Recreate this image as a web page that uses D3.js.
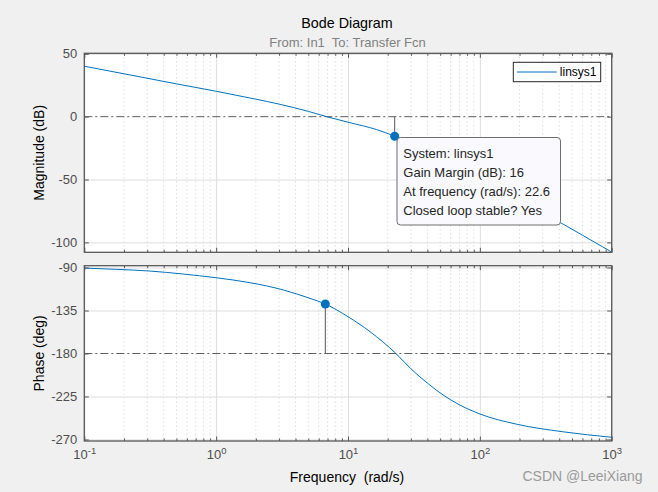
<!DOCTYPE html>
<html><head><meta charset="utf-8">
<script src="https://cdn.jsdelivr.net/npm/d3@7"></script>
<style>
body{margin:0;background:#f0f0f0;}
svg{display:block;font-family:"Liberation Sans",Arial,Helvetica,sans-serif;}
</style>
</head><body>
<svg id="c" width="658" height="492"></svg>
<script>
// ---- data ----
const magFreq = [0.1, 0.2, 0.5, 1, 2, 3, 5, 6.89, 10, 16.5, 22.7, 30, 50, 100, 200, 410, 600, 1000];
const magDb   = [40.1, 34.1, 26.1, 20.2, 13.9, 10.0, 4.2, 0, -4.4, -10.3, -15.6, -21, -32, -50, -67, -84.4, -94.3, -107.7];
const phaseFreq = [0.1, 0.176, 0.315, 0.56, 1, 1.81, 3.23, 5.15, 6.73, 10, 14.7, 23, 30, 40, 60, 100, 190, 430, 1000];
const phaseDeg  = [-90.6, -91.9, -93.7, -96.8, -100.7, -105.9, -113.5, -122.3, -128.2, -141.5, -157.2, -179.8, -196, -211, -228.5, -243.3, -254, -262, -267.7];
const xTickExps = [-1, 0, 1, 2, 3];
const magTicks = [-100, -50, 0, 50];
const phaseTicks = [-270, -225, -180, -135, -90];
const gmPoint = [22.6, -15.6];   // gain margin marker (freq, dB)
const pmPoint = [6.73, -128.2];  // phase margin marker (freq, deg)
const legendLabel = "linsys1";
const tipLines = ["System: linsys1", "Gain Margin (dB): 16", "At frequency (rad/s): 22.6", "Closed loop stable? Yes"];

// ---- layout ----
const svg = d3.select("#c");
const X0 = 84.3, X1 = 611.7;
const magTop = 53.3, magBot = 252.3, phTop = 265.7, phBot = 441;
const blue = "#0072BD", axCol = "#585858", lblCol = "#4d4d4d";

const x = d3.scaleLog().domain([0.1, 1000]).range([X0, X1]);
const yMag = d3.scaleLinear().domain([-107.9, 50.4]).range([magBot, magTop]);
const yPh = d3.scaleLinear().domain([-271.6, -88.1]).range([phBot, phTop]);

const minorFreqs = [];
for (let e = -1; e < 3; e++) for (let m = 2; m <= 9; m++) minorFreqs.push(m * Math.pow(10, e));
const majorFreqs = xTickExps.map(e => Math.pow(10, e));

function panel(y, top, bot, yTicks, refVal, id) {
  const g = svg.append("g");
  g.append("rect").attr("x", X0).attr("y", top).attr("width", X1 - X0).attr("height", bot - top).attr("fill", "#fff");
  g.append("g").selectAll("line").data(minorFreqs).join("line")
    .attr("x1", d => x(d)).attr("x2", d => x(d)).attr("y1", top).attr("y2", bot)
    .attr("stroke", "#cfcfcf").attr("stroke-width", 1).attr("stroke-dasharray", "1,3");
  g.append("g").attr("transform", `translate(0,${bot})`)
    .call(d3.axisBottom(x).tickValues(majorFreqs).tickSize(-(bot - top)).tickFormat(""))
    .call(s => s.select(".domain").remove())
    .call(s => s.selectAll("line").attr("stroke", "#dedede"));
  g.append("g").attr("transform", `translate(${X0},0)`)
    .call(d3.axisLeft(y).tickValues(yTicks.filter(v => v !== refVal)).tickSize(-(X1 - X0)).tickFormat(""))
    .call(s => s.select(".domain").remove())
    .call(s => s.selectAll("line").attr("stroke", "#dedede"));
  g.append("line").attr("x1", X0).attr("x2", X1).attr("y1", y(refVal)).attr("y2", y(refVal))
    .attr("stroke", "#606060").attr("stroke-width", 1).attr("stroke-dasharray", "8,3,2,3");
  svg.append("clipPath").attr("id", id).append("rect")
    .attr("x", X0).attr("y", top).attr("width", X1 - X0).attr("height", bot - top);
  return g;
}

const gM = panel(yMag, magTop, magBot, magTicks, 0, "clipM");
const gP = panel(yPh, phTop, phBot, phaseTicks, -180, "clipP");

const magLine = d3.line().x((d, i) => x(magFreq[i])).y(d => yMag(d)).curve(d3.curveMonotoneX);
gM.append("path").datum(magDb).attr("d", magLine).attr("fill", "none").attr("stroke", blue)
  .attr("stroke-width", 1).attr("clip-path", "url(#clipM)");
const phLine = d3.line().x((d, i) => x(phaseFreq[i])).y(d => yPh(d)).curve(d3.curveMonotoneX);
gP.append("path").datum(phaseDeg).attr("d", phLine).attr("fill", "none").attr("stroke", blue)
  .attr("stroke-width", 1).attr("clip-path", "url(#clipP)");

gM.append("line").attr("x1", x(gmPoint[0])).attr("x2", x(gmPoint[0])).attr("y1", yMag(0)).attr("y2", yMag(gmPoint[1]))
  .attr("stroke", "#555").attr("stroke-width", 1);
gP.append("line").attr("x1", x(pmPoint[0])).attr("x2", x(pmPoint[0])).attr("y1", yPh(-180)).attr("y2", yPh(pmPoint[1]))
  .attr("stroke", "#555").attr("stroke-width", 1);
gM.append("circle").attr("cx", x(gmPoint[0])).attr("cy", yMag(gmPoint[1])).attr("r", 4.5).attr("fill", blue);
gP.append("circle").attr("cx", x(pmPoint[0])).attr("cy", yPh(pmPoint[1])).attr("r", 4.5).attr("fill", blue);

function frame(y, top, bot, yTicks) {
  const g = svg.append("g");
  const styleAx = s => { s.select(".domain").remove(); s.selectAll("line").attr("stroke", axCol); };
  const la = g.append("g").attr("transform", `translate(${X0},0)`)
    .call(d3.axisLeft(y).tickValues(yTicks).tickSize(-4.5).tickPadding(7).tickFormat(d3.format("d")))
    .call(styleAx);
  la.selectAll("text").attr("fill", lblCol).attr("font-size", 13).attr("font-family", "Liberation Sans,Arial,sans-serif")
    .text(d => String(d));
  g.append("g").attr("transform", `translate(${X1},0)`)
    .call(d3.axisRight(y).tickValues(yTicks).tickSize(-4.5).tickFormat("")).call(styleAx);
  g.append("g").attr("transform", `translate(0,${bot})`)
    .call(d3.axisBottom(x).tickValues(majorFreqs).tickSize(-4.5).tickFormat("")).call(styleAx);
  g.append("g").attr("transform", `translate(0,${top})`)
    .call(d3.axisTop(x).tickValues(majorFreqs).tickSize(-4.5).tickFormat("")).call(styleAx);
  g.append("g").attr("transform", `translate(0,${bot})`)
    .call(d3.axisBottom(x).tickValues(minorFreqs).tickSize(-2.5).tickFormat("")).call(styleAx);
  g.append("g").attr("transform", `translate(0,${top})`)
    .call(d3.axisTop(x).tickValues(minorFreqs).tickSize(-2.5).tickFormat("")).call(styleAx);
  g.append("rect").attr("x", X0).attr("y", top).attr("width", X1 - X0).attr("height", bot - top)
    .attr("fill", "none").attr("stroke", axCol).attr("stroke-width", 1.3);
  return g;
}
frame(yMag, magTop, magBot, magTicks);
frame(yPh, phTop, phBot, phaseTicks);

const xl = svg.append("g").attr("transform", `translate(0,${phBot})`)
  .call(d3.axisBottom(x).tickValues(majorFreqs).tickSize(0).tickPadding(14).tickFormat(""));
xl.select(".domain").remove();
xl.selectAll(".tick").each(function(d) {
  const t = d3.select(this).select("text");
  t.attr("fill", lblCol).attr("font-size", 13).attr("dy", "0.71em").attr("y", 9).attr("text-anchor", "middle");
  t.append("tspan").text("10");
  t.append("tspan").attr("dy", "-0.5em").attr("font-size", 9.5).text(Math.round(Math.log10(d)));
});

const lg = svg.append("g");
lg.append("rect").attr("x", 513.3).attr("y", 62.3).attr("width", 87.4).attr("height", 19.4)
  .attr("fill", "#fff").attr("stroke", "#262626").attr("stroke-width", 1);
lg.append("line").attr("x1", 517).attr("x2", 556.7).attr("y1", 72).attr("y2", 72).attr("stroke", blue).attr("stroke-width", 1);
lg.append("text").attr("x", 559.8).attr("y", 76.3).attr("font-size", 12).attr("fill", "#000").text(legendLabel);

const tip = svg.append("g");
tip.append("rect").attr("x", 397).attr("y", 137.5).attr("width", 163.5).attr("height", 87.5).attr("rx", 3.5)
  .attr("fill", "#f9f9fe").attr("stroke", "#6e6e6e").attr("stroke-width", 1);
tip.selectAll("text").data(tipLines).join("text")
  .attr("x", 403.3).attr("y", (d, i) => 158 + i * 19).attr("font-size", 13).attr("fill", "#262626").text(d => d);

svg.append("text").attr("x", 347).attr("y", 27.5).attr("text-anchor", "middle").attr("font-size", 14.3)
  .attr("fill", "#000").text("Bode Diagram");
svg.append("text").attr("x", 347.5).attr("y", 47).attr("text-anchor", "middle").attr("font-size", 13)
  .attr("fill", "#808080").style("white-space", "pre").text("From: In1  To: Transfer Fcn");
svg.append("text").attr("transform", `translate(44,${(magTop + magBot) / 2}) rotate(-90)`).attr("text-anchor", "middle")
  .attr("font-size", 14).attr("fill", "#000").text("Magnitude (dB)");
svg.append("text").attr("transform", `translate(44,${(phTop + phBot) / 2}) rotate(-90)`).attr("text-anchor", "middle")
  .attr("font-size", 14).attr("fill", "#000").text("Phase (deg)");
svg.append("text").attr("x", 347).attr("y", 482).attr("text-anchor", "middle").attr("font-size", 14)
  .attr("fill", "#000").style("white-space", "pre").text("Frequency  (rad/s)");
svg.append("text").attr("x", 642.5).attr("y", 481).attr("text-anchor", "end").attr("font-size", 14)
  .attr("fill", "#9a9a9a").text("CSDN @LeeiXiang");
</script>
</body></html>
